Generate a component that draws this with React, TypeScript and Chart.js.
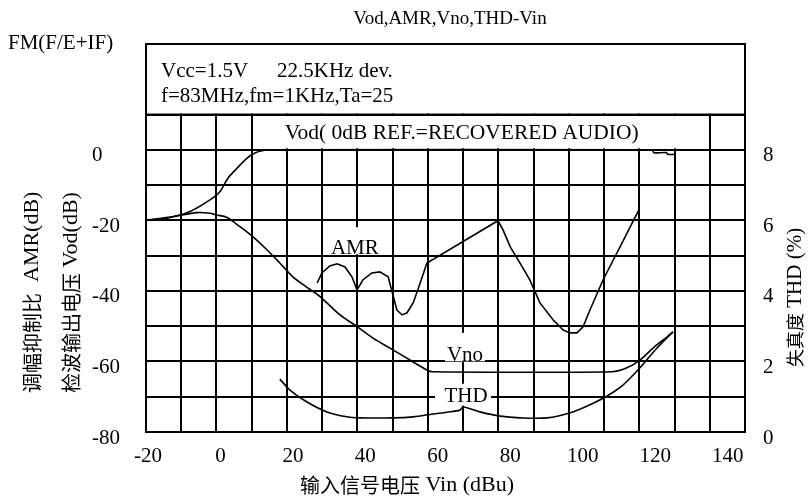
import React, { useEffect, useRef } from "react";
import { Chart, registerables } from "chart.js";

Chart.register(...registerables);

const SERIF = "'Liberation Serif', 'Times New Roman', serif";
const CJK = "'Noto Sans CJK SC', sans-serif";

// ---- axes / ticks ----
const xTickValues = [-20, 0, 20, 40, 60, 80, 100, 120, 140];
const leftTickValues = [0, -20, -40, -60, -80];
const leftGridValues = [-80, -70, -60, -50, -40, -30, -20, -10, 0, 10, 20, 30];
const rightTickValues = [0, 2, 4, 6, 8];
const gridColumns = [0, 1, 2, 3, 4, 5, 6, 7, 8, 9, 10, 11, 12, 13, 14, 15, 16, 17];

// ---- series (Vin dBu -> value) ----
const vodX = [-20.3, -14.7, -8.4, -2.9, -0.1, 2.1, 4.6, 7.3, 9.5, 11.8, 14.0, 119.2, 119.6, 123.0, 123.5, 125.3];
const vodY = [-19.9, -19.4, -17.5, -14.2, -11.8, -8.0, -5.2, -2.4, -0.9, -0.2, 0, 0, -0.8, -0.8, -1.3, -1.3];

const vnoX = [-20.3, -13.0, -6.5, -2.9, -1.1, 1.7, 5.4, 9.0, 12.9, 16.4, 20.0, 23.9, 27.5, 33.0, 37.7, 42.1, 47.6, 52.3, 57.0, 58.5, 108.1, 112.2, 115.8, 119.4, 123.3, 124.9];
const vnoY = [-19.9, -18.9, -17.8, -18.0, -18.5, -19.1, -21.8, -24.7, -28.4, -32.1, -36.0, -39.0, -41.6, -46.8, -50.1, -53.4, -56.7, -59.6, -62.4, -62.9, -62.9, -61.8, -59.6, -56.2, -53.0, -51.6];

const amrX = [26.7, 28.0, 30.2, 32.2, 34.4, 36.3, 37.7, 39.3, 41.8, 44.0, 46.3, 47.6, 48.7, 50.1, 51.5, 53.2, 54.5, 57.0, 76.6, 78.0, 80.0, 82.7, 85.4, 88.2, 91.8, 94.6, 96.5, 98.4, 100.1, 102.0, 105.6, 110.3, 115.5];
const amrY = [-37.7, -34.9, -32.9, -32.3, -33.2, -36.0, -39.7, -36.9, -34.9, -34.6, -36.0, -41.1, -45.4, -46.8, -46.2, -43.4, -39.7, -32.1, -20.1, -22.7, -27.5, -32.1, -36.9, -43.4, -48.2, -51.1, -51.9, -51.9, -50.2, -45.4, -36.9, -27.5, -17.0];

const thdX = [16.4, 19.2, 23.9, 29.4, 34.9, 38.5, 47.6, 53.2, 58.7, 62.5, 66.1, 67.0, 71.6, 77.2, 82.7, 90.1, 97.3, 102.0, 106.7, 111.1, 115.8, 120.5, 124.9];
const thdY = [1.50, 1.19, 0.85, 0.57, 0.43, 0.40, 0.40, 0.43, 0.51, 0.56, 0.62, 0.71, 0.57, 0.45, 0.40, 0.40, 0.57, 0.77, 1.02, 1.33, 1.82, 2.38, 2.84];

// ---- in-plot labels (data coordinates) ----
const noteTexts = ["AMR", "Vno", "THD"];
const noteX = [37.1, 67.5, 67.8];
const noteY = [-27.9, -58.4, -70.0];

const X_MIN = -20.54;
const X_MAX = 144.79;

const zip = (xs: number[], ys: number[]) => xs.map((x, i) => ({ x, y: ys[i] }));

function drawRun(ctx: CanvasRenderingContext2D, parts: [string, string][], x: number, y: number, angle: number) {
  ctx.save();
  ctx.translate(x, y);
  ctx.rotate(angle);
  ctx.textAlign = "left";
  ctx.textBaseline = "middle";
  ctx.fillStyle = "#000";
  let cx = 0;
  for (const [t, f] of parts) {
    ctx.font = f;
    ctx.fillText(t, cx, 0);
    cx += ctx.measureText(t).width;
  }
  ctx.restore();
}

const overlayPlugin = {
  id: "overlay",
  beforeDatasetsDraw(chart: any) {
    const ctx: CanvasRenderingContext2D = chart.ctx;
    const { left, right, top } = chart.chartArea;
    const xs = chart.scales.x;
    const ys = chart.scales.y;
    const xg = chart.scales.xg;
    const y10 = ys.getPixelForValue(10);
    const y0 = ys.getPixelForValue(0);
    ctx.save();
    // header box
    ctx.fillStyle = "#fff";
    ctx.fillRect(left + 1, top + 1, right - left - 2, y10 - top - 2);
    ctx.strokeStyle = "#000";
    ctx.lineWidth = 2;
    ctx.strokeRect(left, top, right - left, y10 - top);
    ctx.fillStyle = "#000";
    ctx.font = `21px ${SERIF}`;
    ctx.textAlign = "left";
    ctx.textBaseline = "middle";
    ctx.fillText("Vcc=1.5V", left + 15, top + 27.5);
    ctx.fillText("22.5KHz dev.", left + 131, top + 27.5);
    ctx.fillText("f=83MHz,fm=1KHz,Ta=25", left + 15, top + 52.5);
    // Vod reference label row
    const gx3 = xg.getPixelForValue(3);
    const gx16 = xg.getPixelForValue(16);
    ctx.fillStyle = "#fff";
    ctx.fillRect(gx3 + 1.5, y10 + 1.5, gx16 - gx3 - 3, y0 - y10 - 3);
    ctx.fillStyle = "#000";
    ctx.font = `21.5px ${SERIF}`;
    ctx.textAlign = "center";
    ctx.fillText("Vod( 0dB REF.=RECOVERED AUDIO)", xs.getPixelForValue(66.6), ys.getPixelForValue(4.8));
    // in-plot labels with white background
    const bgs = [
      [-25, -21, 50, 27],
      [-20, -23, 40, 28.5],
      [-31, -13, 56, 22],
    ];
    ctx.font = `21px ${SERIF}`;
    noteTexts.forEach((t, i) => {
      const px = xs.getPixelForValue(noteX[i]);
      const py = ys.getPixelForValue(noteY[i]);
      const b = bgs[i];
      ctx.fillStyle = "#fff";
      ctx.fillRect(px + b[0], py + b[1], b[2], b[3]);
      ctx.fillStyle = "#000";
      ctx.fillText(t, px, py);
    });
    ctx.restore();
  },
  afterDraw(chart: any) {
    const ctx: CanvasRenderingContext2D = chart.ctx;
    ctx.save();
    ctx.fillStyle = "#000";
    ctx.textBaseline = "middle";
    ctx.textAlign = "center";
    ctx.font = `19px ${SERIF}`;
    ctx.fillText("Vod,AMR,Vno,THD-Vin", 450, 19);
    ctx.textAlign = "left";
    ctx.font = `21px ${SERIF}`;
    ctx.fillText("FM(F/E+IF)", 8, 43);
    ctx.restore();
    drawRun(ctx, [["调幅抑制比", `20px ${CJK}`], ["  AMR(dB)", `22px ${SERIF}`]], 32, 393, -Math.PI / 2);
    drawRun(ctx, [["检波输出电压", `20px ${CJK}`], [" Vod(dB)", `22px ${SERIF}`]], 71, 393, -Math.PI / 2);
    drawRun(ctx, [["失真度", `18px ${CJK}`], [" THD (%)", `21px ${SERIF}`]], 795, 367, -Math.PI / 2);
    drawRun(ctx, [["输入信号电压", `20px ${CJK}`], [" Vin (dBu)", `22px ${SERIF}`]], 300, 485, 0);
  },
};

export default function App() {
  const ref = useRef<HTMLCanvasElement>(null);
  useEffect(() => {
    if (!ref.current) return;
    const lineStyle = {
      borderColor: "#000",
      borderWidth: 1.6,
      pointRadius: 0,
      showLine: true,
      fill: false,
    };
    const chart = new Chart(ref.current, {
      type: "scatter",
      data: {
        datasets: [
          { ...lineStyle, label: "Vod", data: zip(vodX, vodY), tension: 0.3, yAxisID: "y" },
          { ...lineStyle, label: "Vno", data: zip(vnoX, vnoY), tension: 0.3, yAxisID: "y" },
          { ...lineStyle, label: "AMR", data: zip(amrX, amrY), tension: 0, yAxisID: "y" },
          { ...lineStyle, label: "THD", data: zip(thdX, thdY), tension: 0.3, yAxisID: "y2" },
        ],
      },
      options: {
        responsive: true,
        maintainAspectRatio: false,
        animation: false,
        events: [],
        layout: { padding: { left: 92, right: 35, top: 44, bottom: 0 } },
        plugins: {
          legend: { display: false },
          tooltip: { enabled: false },
          title: { display: false },
        },
        scales: {
          x: {
            type: "linear",
            position: "bottom",
            min: X_MIN,
            max: X_MAX,
            afterBuildTicks: (a: any) => {
              a.ticks = xTickValues.map((v) => ({ value: v }));
            },
            afterFit: (a: any) => {
              a.height = 69;
            },
            grid: { display: false, drawTicks: false },
            border: { display: true, color: "#000", width: 2 },
            ticks: {
              color: "#000",
              font: { family: SERIF, size: 21 },
              padding: 12,
              maxRotation: 0,
              autoSkip: false,
              callback: (v: any) => String(v),
            },
          },
          xg: {
            type: "linear",
            position: "top",
            min: 0,
            max: 17,
            afterBuildTicks: (a: any) => {
              a.ticks = gridColumns.map((v) => ({ value: v }));
            },
            afterFit: (a: any) => {
              a.height = 0;
            },
            grid: { color: "#000", lineWidth: 2, drawTicks: false },
            border: { display: true, color: "#000", width: 2 },
            ticks: { display: false },
          },
          y: {
            type: "linear",
            position: "left",
            min: -80,
            max: 30,
            afterBuildTicks: (a: any) => {
              a.ticks = leftGridValues.map((v) => ({ value: v }));
            },
            afterFit: (a: any) => {
              a.width = 54;
            },
            grid: { color: "#000", lineWidth: 2, drawTicks: false },
            border: { display: true, color: "#000", width: 2 },
            ticks: {
              color: "#000",
              font: { family: SERIF, size: 21 },
              padding: 0,
              crossAlign: "far",
              labelOffset: 6,
              autoSkip: false,
              callback: (v: any) => (leftTickValues.includes(Number(v)) ? String(v) : ""),
            },
          },
          y2: {
            type: "linear",
            position: "right",
            min: 0,
            max: 11,
            afterBuildTicks: (a: any) => {
              a.ticks = rightTickValues.map((v) => ({ value: v }));
            },
            afterFit: (a: any) => {
              a.width = 30;
            },
            grid: { display: false, drawTicks: false },
            border: { display: true, color: "#000", width: 2 },
            ticks: {
              color: "#000",
              font: { family: SERIF, size: 21 },
              padding: 18,
              labelOffset: 6,
              autoSkip: false,
              callback: (v: any) => String(v),
            },
          },
        },
      } as any,
      plugins: [overlayPlugin],
    });
    return () => chart.destroy();
  }, []);
  return (
    <div style={{ position: "absolute", left: 0, top: 0, width: 810, height: 501, background: "#fff" }}>
      <canvas ref={ref} />
    </div>
  );
}
